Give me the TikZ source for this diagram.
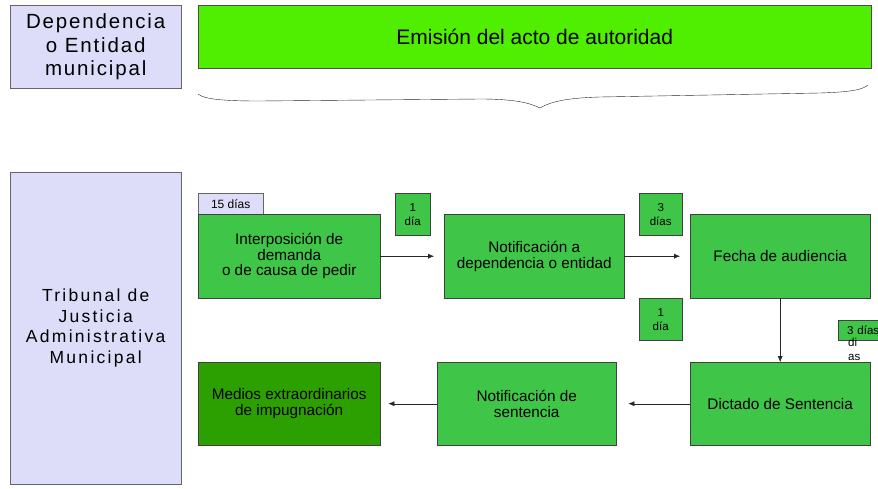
\documentclass[tikz,border=0pt]{standalone}
\usepackage{fontspec}
\setmainfont{Liberation Sans}
\usetikzlibrary{arrows.meta}
\definecolor{lilac}{HTML}{DDDDF9}
\definecolor{boxgreen}{HTML}{3FC547}
\definecolor{brightgreen}{HTML}{50EE00}
\definecolor{darkgreen}{HTML}{2CA000}
\begin{document}
\begin{tikzpicture}[x=1pt, y=-1pt,
  lane/.style={draw=black!60, fill=lilac, align=center, anchor=north west, inner sep=0pt},
  stepbox/.style={draw=black!75, fill=boxgreen, align=center, anchor=north west, inner sep=2pt,
    minimum width=181pt, minimum height=84pt, font=\fontsize{15.3}{15.5}\selectfont},
  tag/.style={draw=black!75, fill=boxgreen, align=center, anchor=north west, inner sep=0pt,
    font=\fontsize{11.5}{14}\selectfont},
  flow/.style={-{Latex[length=6pt,width=5pt]}, black!85}]
\useasboundingbox (0,0) rectangle (878,488);
\node[lane, minimum width=171pt, minimum height=83pt,
  font=\fontsize{20.5}{23.5}\selectfont\addfontfeature{LetterSpace=9}] (dep) at (10,5) {Dependencia\\o Entidad\\municipal};
\node[draw=black!70, fill=brightgreen, anchor=north west, minimum width=673pt, minimum height=63pt,
  font=\fontsize{21}{24}\selectfont] (acto) at (198,5) {Emisión del acto de autoridad};
\draw[black!85] (198,94) .. controls (205,100) and (230,101) .. (260,101) -- (480,99)
  .. controls (515,99) and (530,103) .. (540,108) .. controls (550,102) and (565,98) .. (600,97)
  -- (820,93) .. controls (850,92) and (862,90) .. (868,85);
\node[lane, minimum width=171pt, minimum height=312pt,
  font=\fontsize{17.5}{20.5}\selectfont\addfontfeature{LetterSpace=13}] (tja) at (10,172) {Tribunal de\\Justicia\\Administrativa\\Municipal};
\node[lane, minimum width=65pt, minimum height=21pt, font=\fontsize{12}{12}\selectfont] (plazo) at (198,193) {15 días};
\node[stepbox, minimum width=182pt] (demanda) at (198,214) {Interposición de\\demanda\\o de causa de pedir};
\node[stepbox, minimum width=180pt] (notif) at (444,214) {Notificación a\\dependencia o entidad};
\node[stepbox, minimum width=180pt] (audiencia) at (690,214) {Fecha de audiencia};
\node[stepbox, minimum width=180pt, minimum height=83pt] (dictado) at (690,362) {Dictado de Sentencia};
\node[stepbox, minimum width=179pt, minimum height=83pt] (notsent) at (437,362) {Notificación de\\sentencia};
\node[stepbox, fill=darkgreen, minimum width=182pt, minimum height=83pt] (medios) at (198,362) {Medios extraordinarios\\de impugnación};
\node[tag, minimum width=35pt, minimum height=42pt] (t1) at (395,193) {1\\día};
\node[tag, minimum width=43pt, minimum height=42pt] (t2) at (639,193) {3\\días};
\node[tag, minimum width=43pt, minimum height=42pt] (t3) at (639,298) {1\\día};
\node[tag, minimum width=50pt, minimum height=20pt, text width=46pt, align=left] (t4) at (838,320) {\hspace*{7pt}3 días};
\node[anchor=north west, inner sep=0pt, align=left, font=\fontsize{11.5}{14}\selectfont] (t4b) at (848,338) {di\\as};
\draw[flow, shorten >=10pt] (demanda) -- (notif);
\draw[flow, shorten >=10pt] (notif) -- (audiencia);
\draw[flow] (audiencia) -- (dictado);
\draw[flow, shorten >=12pt] (dictado) -- (notsent);
\draw[flow, shorten >=8pt] (notsent) -- (medios);
\end{tikzpicture}
\end{document}
